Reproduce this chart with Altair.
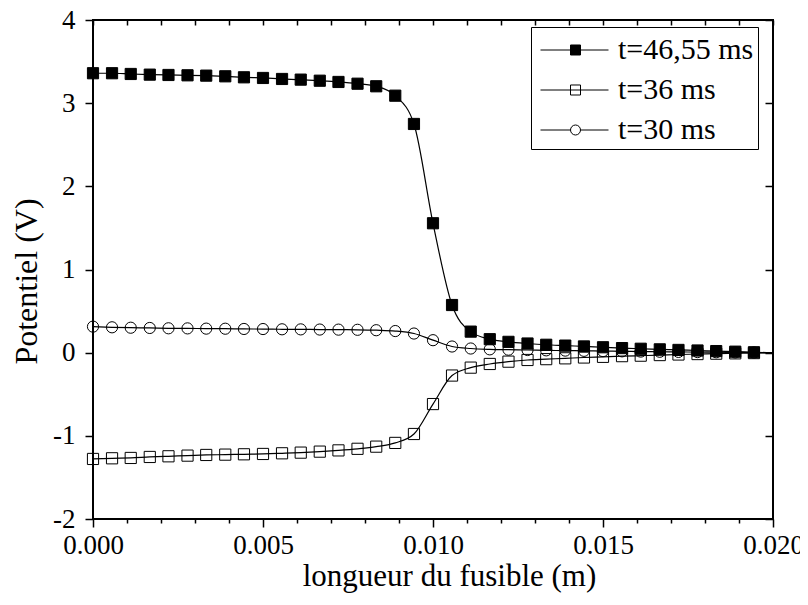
import altair as alt
import pandas as pd

FONT = "serif"

series = ["t=46,55 ms", "t=36 ms", "t=30 ms"]

x_pos = [0.0, 0.00056, 0.00111, 0.00167, 0.00222, 0.00278, 0.00333, 0.00389,
         0.00444, 0.005, 0.00556, 0.00611, 0.00667, 0.00722, 0.00778, 0.00833,
         0.00889, 0.00944, 0.01, 0.01056, 0.01111, 0.01167, 0.01222, 0.01278,
         0.01333, 0.01389, 0.01444, 0.015, 0.01556, 0.01611, 0.01667, 0.01722,
         0.01778, 0.01833, 0.01889, 0.01944]

y_4655 = [3.36, 3.36, 3.351, 3.343, 3.339, 3.335, 3.331, 3.323, 3.311, 3.303,
          3.291, 3.283, 3.27, 3.255, 3.234, 3.203, 3.09, 2.75, 1.556, 0.573,
          0.253, 0.162, 0.13, 0.11, 0.095, 0.085, 0.075, 0.065, 0.055, 0.047,
          0.04, 0.033, 0.026, 0.019, 0.012, 0.005]

y_36 = [-1.278, -1.27, -1.266, -1.254, -1.246, -1.238, -1.23, -1.226, -1.222,
        -1.218, -1.21, -1.202, -1.19, -1.175, -1.156, -1.13, -1.085, -0.978,
        -0.618, -0.275, -0.18, -0.136, -0.108, -0.088, -0.078, -0.068, -0.058,
        -0.05, -0.042, -0.036, -0.029, -0.022, -0.017, -0.012, -0.008, -0.005]

y_30 = [0.313, 0.305, 0.30, 0.297, 0.293, 0.292, 0.289, 0.288, 0.285, 0.284,
        0.281, 0.28, 0.278, 0.277, 0.275, 0.27, 0.26, 0.23, 0.15, 0.074, 0.05,
        0.04, 0.036, 0.032, 0.028, 0.025, 0.022, 0.019, 0.016, 0.013, 0.011,
        0.009, 0.007, 0.005, 0.003, 0.002]

x_end = 0.02
y_end = [0.0, -0.003, 0.001]

major_x = [0.0, 0.005, 0.01, 0.015, 0.02]
minor_x = [0.001, 0.002, 0.003, 0.004, 0.006, 0.007, 0.008, 0.009, 0.011,
           0.012, 0.013, 0.014, 0.016, 0.017, 0.018, 0.019]
all_x = sorted(major_x + minor_x)
y_ticks = [-2, -1, 0, 1, 2, 3, 4]

rows = []
for name, ys in zip(series, [y_4655, y_36, y_30]):
    for xv, yv in zip(x_pos, ys):
        rows.append({"series": name, "x": xv, "y": yv})
pts = pd.DataFrame(rows)
line_rows = list(rows)
for name, ye in zip(series, y_end):
    line_rows.append({"series": name, "x": x_end, "y": ye})
line_df = pd.DataFrame(line_rows)

xscale = alt.Scale(domain=[0, 0.02], nice=False, zero=False)
yscale = alt.Scale(domain=[-2, 4], nice=False, zero=False)

lines = alt.Chart(line_df).mark_line(
    interpolate="monotone", color="black", strokeWidth=1.2
).encode(
    x=alt.X("x:Q", scale=xscale,
            axis=alt.Axis(orient="bottom", values=major_x, format=".3f",
                          tickSize=8, labelPadding=5, labelFlush=False,
                          labelFont=FONT, titleFont=FONT,
                          title="longueur du fusible (m)", titlePadding=3,
                          titleFontSize=31, titleX=356)),
    y=alt.Y("y:Q", scale=yscale,
            axis=alt.Axis(orient="left", values=y_ticks,
                          labelExpr="datum.value + ''", labelFlush=False,
                          labelFont=FONT, titleFont=FONT,
                          tickSize=8, labelPadding=10,
                          title="Potentiel (V)", titlePadding=9,
                          titleFontSize=32, titleY=261)),
    detail="series:N",
)

points = alt.Chart(pts).mark_point(size=125, strokeWidth=1, color="black", opacity=1).encode(
    x=alt.X("x:Q", scale=xscale,
            axis=alt.Axis(orient="bottom", values=minor_x, tickSize=4,
                          labels=False, title=None)),
    y=alt.Y("y:Q", scale=yscale,
            axis=alt.Axis(orient="right", values=y_ticks, tickSize=8,
                          offset=-8, labels=False, title=None)),
    shape=alt.Shape("series:N", scale=alt.Scale(domain=series, range=["square", "square", "circle"]), legend=None),
    fill=alt.Fill("series:N", scale=alt.Scale(domain=series, range=["black", "transparent", "transparent"]), legend=None),
)

legend_paths = [
    "M-0.863,0H1M-0.041,-0.137H0.233V0.137H-0.041Z",
    "M-0.863,0H1M-0.041,-0.137H0.233V0.137H-0.041Z",
    "M-0.863,0H-0.041M0.233,0H1M0.233,0A0.137,0.137 0 1,1 -0.041,0A0.137,0.137 0 1,1 0.233,0Z",
]

leg = alt.Legend(
    title=" ", titleFontSize=4, titlePadding=0,
    orient="none", legendX=438, legendY=7,
    strokeColor="black", fillColor="white", padding=4,
    labelFont=FONT, labelFontSize=30, labelColor="black", labelOffset=9,
    labelLimit=400,
    symbolSize=5329, symbolStrokeWidth=1, symbolStrokeColor="black",
    symbolOpacity=1, rowPadding=10, clipHeight=30,
)

legend_layer = alt.Chart(pts).transform_filter(
    "datum.x > 1"
).mark_point(color="black", strokeWidth=1, opacity=1).encode(
    x=alt.X("x:Q", scale=xscale,
            axis=alt.Axis(orient="top", values=all_x, tickSize=5, offset=-5,
                          labels=False, title=None)),
    y=alt.Y("y:Q", scale=yscale, axis=None),
    shape=alt.Shape("series:N", scale=alt.Scale(domain=series, range=legend_paths), legend=leg),
    fill=alt.Fill("series:N", scale=alt.Scale(domain=series, range=["black", "white", "white"]), legend=leg),
    stroke=alt.Stroke("series:N", scale=alt.Scale(domain=series, range=["black", "black", "black"]), legend=leg),
)

chart = alt.layer(lines, points, legend_layer).resolve_scale(
    shape="independent", fill="independent", stroke="independent"
).resolve_axis(
    x="independent", y="independent"
).properties(
    width=680, height=499,
    autosize=alt.AutoSizeParams(type="none"),
    padding={"left": 85, "top": 12, "right": 27, "bottom": 76},
    background="white",
).configure(
    font=FONT,
    style={"guide-label": {"font": FONT}, "guide-title": {"font": FONT}},
).configure_view(
    stroke="black", strokeWidth=2
).configure_axis(
    grid=False, domain=False, tickColor="black", tickWidth=1.5,
    labelColor="black", labelFont=FONT, labelFontSize=27,
    titleFont=FONT, titleFontWeight="normal", titleColor="black",
)

chart.save("out.html", embed_options={"renderer": "svg", "actions": False})
